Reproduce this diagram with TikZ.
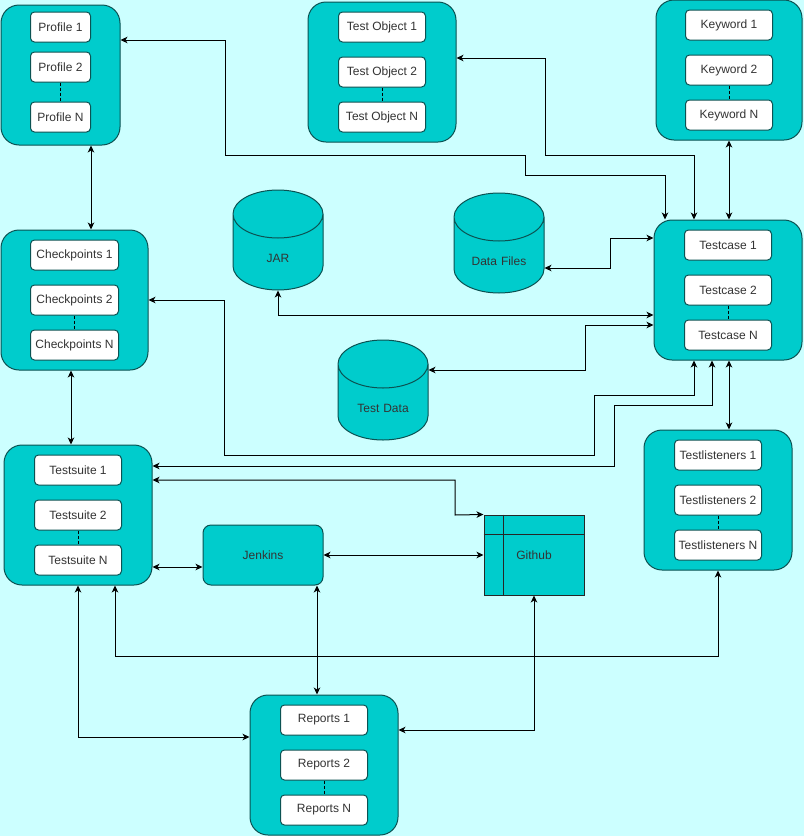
\documentclass[tikz,border=0pt]{standalone}
\usepackage{fontspec}
\setmainfont{Liberation Sans}
\usetikzlibrary{calc,shapes.geometric,arrows.meta,positioning}
\definecolor{mybg}{HTML}{CCFFFF}
\definecolor{myteal}{HTML}{00CCCC}
\definecolor{myedge}{HTML}{0B5252}

\begin{document}
\begin{tikzpicture}[
  x=1pt, y=-1pt,
  line width=1pt,
  >={Stealth[length=7pt,width=6.5pt,inset=2pt]},
  nodes={font=\fontsize{12}{14}\selectfont, text=black!80},
  mycontainer/.style={
    draw=myedge,
    fill=myteal,
    rounded corners=18pt,
    minimum height=140pt,
    inner sep=0pt
    },
  myitem/.style={
    draw=myedge,
    fill=white,
    rounded corners=4pt,
    minimum height=30pt,
    inner sep=0pt
    },
  mycylinder/.style={
    draw=myedge,
    fill=myteal,
    cylinder,
    shape border rotate=90,
    aspect=0.8,
    text width=60pt,
    text height=20pt,
    align=center,
    minimum width=90pt,
    minimum height=100pt,
    inner sep=0pt
    }
]

\useasboundingbox[fill=mybg] (0,0) rectangle (804,836);

% containers with three entries each
\foreach \cname/\ctext/\cx/\ct/\cw/\iw/\oa/\ob/\oc in {
  profile/Profile/60.5/5/119/60/22/62/112,
  testobject/Test Object/382/2/148/87/25/70/115,
  keyword/Keyword/729/0/146/87/25/70/115,
  checkpoints/Checkpoints/74.5/230/147/88/25/70/115,
  testcase/Testcase/728/220/148/87/25/70/115,
  testsuite/Testsuite/78/445/148/87/25/70/115,
  testlisteners/Testlisteners/718/430/148/87/25/70/115,
  reports/Reports/324/695/148/87/25/70/115}
{
  \node[mycontainer, minimum width=\cw pt] (\cname) at (\cx,\ct+70) {};
  \node[myitem, minimum width=\iw pt] (\cname1) at (\cx,\ct+\oa) {\ctext\ 1};
  \node[myitem, minimum width=\iw pt] (\cname2) at (\cx,\ct+\ob) {\ctext\ 2};
  \node[myitem, minimum width=\iw pt] (\cname3) at (\cx,\ct+\oc) {\ctext\ N};
  \draw[dashed, dash pattern=on 3pt off 2pt] (\cname2) -- (\cname3);
}

% storage
\node[mycylinder, anchor=shape center] (jar) at (278,240) {JAR};
\node[mycylinder, anchor=shape center] (datafiles) at (499,243) {Data Files};
\node[mycylinder, anchor=shape center] (testdata) at (383,390) {Test Data};

% tools
\node[draw=myedge, fill=myteal, rounded corners=8pt, minimum width=120pt, minimum height=60pt]
  (jenkins) at (263,555) {Jenkins};
\node[draw=black!85, fill=myteal, minimum width=100pt, minimum height=80pt]
  (github) at (534,555) {Github};
\draw[black!85] ($(github.north west)+(20,0)$) -- ($(github.south west)+(20,0)$);
\draw[black!85] ($(github.north west)+(0,20)$) -- ($(github.north east)+(0,20)$);

% connectors
\draw[<->] (profile.east |- 0,40) -| (225,155) -| (525,175) -| (testcase.north -| 665,0);
\draw[<->] (testobject.east |- 0,58) -| (545,155) -| (testcase.north -| 694,0);
\draw[<->] (keyword.south) -- (keyword.south |- testcase.north);
\draw[<->] (datafiles.east |- 0,268) -| (610,238) -- (testcase.west |- 0,238);
\draw[<->] (jar.south) |- (testcase.west |- 0,315);
\draw[<->] (testdata.east |- 0,370) -| (585,325) -- (testcase.west |- 0,325);
\draw[<->] (checkpoints.east |- 0,300) -| (224,455) -| (594,395) -| (testcase.south -| 694,0);
\draw[<->] (testsuite.east |- 0,466) -| (614,405) -| (testcase.south -| 712,0);
\draw[<->] (testcase.south -| 729,0) -- (testlisteners.north -| 729,0);
\draw[<->] (profile.south -| 91,0) -- (checkpoints.north -| 91,0);
\draw[<->] (checkpoints.south -| 71,0) -- (testsuite.north -| 71,0);
\draw[<->] (testsuite.east |- 0,480) -| (455,515) -- (github.north west);
\draw[<->] (jenkins) -- (github);
\draw[<->] (testsuite.east |- 0,567) -- (jenkins.west |- 0,567);
\draw[<->] (jenkins.south -| 317,0) -- (reports.north -| 317,0);
\draw[<->] (testsuite.south -| 78,0) |- (reports.west |- 0,737);
\draw[<->] (testsuite.south -| 115,0) |- (718,656) -- (testlisteners.south -| 718,0);
\draw[<->] (reports.east |- 0,730) -| (github.south);

\end{tikzpicture}
\end{document}
